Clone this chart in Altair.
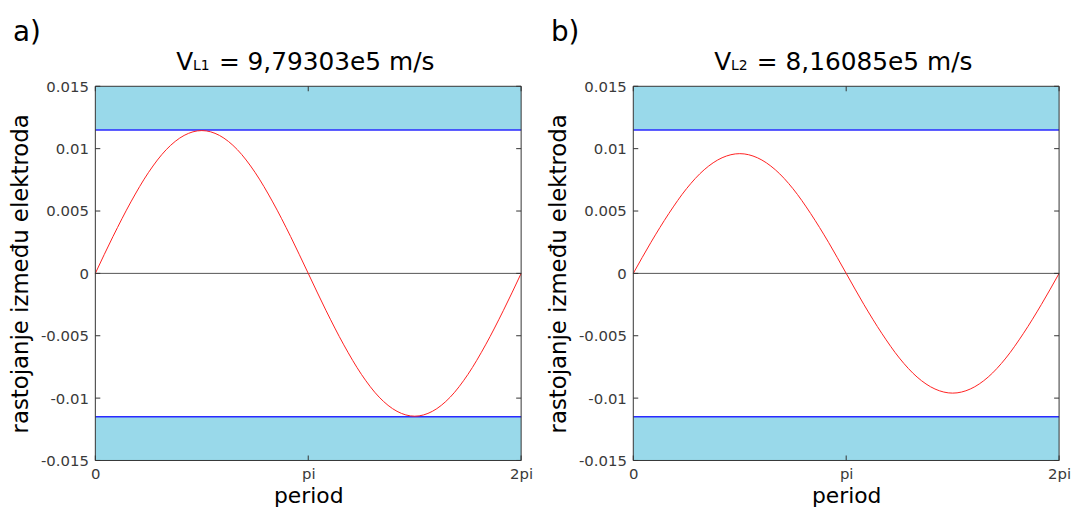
import altair as alt
import pandas as pd

# ---- data ----
x_pi = [0, 0.083, 0.167, 0.25, 0.333, 0.417, 0.5, 0.583, 0.667, 0.75, 0.833, 0.917,
        1.0, 1.083, 1.167, 1.25, 1.333, 1.417, 1.5, 1.583, 1.667, 1.75, 1.833, 1.917, 2.0]
curve_a = [0, 0.00296, 0.00573, 0.00810, 0.00992, 0.01106, 0.01145, 0.01106, 0.00992,
           0.00810, 0.00573, 0.00296, 0, -0.00296, -0.00573, -0.00810, -0.00992,
           -0.01106, -0.01145, -0.01106, -0.00992, -0.00810, -0.00573, -0.00296, 0]
curve_b = [0, 0.00249, 0.00480, 0.00679, 0.00831, 0.00927, 0.00960, 0.00927, 0.00831,
           0.00679, 0.00480, 0.00249, 0, -0.00249, -0.00480, -0.00679, -0.00831,
           -0.00927, -0.00960, -0.00927, -0.00831, -0.00679, -0.00480, -0.00249, 0]
band_lo = [0.0115, -0.015]
band_hi = [0.015, -0.0115]
limit_lines = [0.0115, -0.0115]
zero_line = [0.0]
y_ticks = [-0.015, -0.01, -0.005, 0, 0.005, 0.01, 0.015]
y_tick_labels = ["-0.015", "-0.01", "-0.005", "0", "0.005", "0.01", "0.015"]
x_ticks = [0, 1, 2]
x_tick_labels = ["0", "pi", "2pi"]
panel_labels = ["a)", "b)"]
title_subs = ["L1", "L2"]
title_values = ["= 9,79303e5 m/s", "= 8,16085e5 m/s"]
y_title = "rastojanje između elektroda"
x_title = "period"

W, H = 429, 377
FONT = "DejaVu Sans"
CX = W / 2


def expr(vals, labels):
    parts = [f"datum.value == {v} ? '{l}'" for v, l in zip(vals, labels)]
    return " : ".join(parts) + " : ''"


def panel(values, label, sub, val):
    xs = alt.Scale(domain=[0, 2], nice=False, zero=False)
    ys = alt.Scale(domain=[-0.015, 0.015], nice=False, zero=False)
    xaxis = alt.Axis(values=x_ticks, labelExpr=expr(x_ticks, x_tick_labels), title=x_title,
                     grid=False, ticks=False, domain=False, labelFlush=False, labelPadding=6,
                     labelFont=FONT, labelFontSize=15, labelColor="#3a3a3a",
                     titleFont=FONT, titleFontSize=22, titleFontWeight="normal",
                     titleColor="black", titlePadding=4)
    yaxis = alt.Axis(values=y_ticks, labelExpr=expr(y_ticks, y_tick_labels), title=y_title,
                     grid=False, ticks=False, domain=False, labelPadding=7,
                     labelFont=FONT, labelFontSize=15, labelColor="#3a3a3a",
                     titleFont=FONT, titleFontSize=23, titleFontWeight="normal",
                     titleColor="black", titlePadding=8)

    curve = pd.DataFrame({"x": x_pi, "y": values})
    bands = pd.DataFrame({"lo": band_lo, "hi": band_hi})
    limits = pd.DataFrame({"v": limit_lines})
    zero = pd.DataFrame({"v": zero_line})
    yt = pd.DataFrame({"v": y_ticks})
    xt = pd.DataFrame({"v": x_ticks})
    txt = pd.DataFrame({"lab": [label], "sub": [sub], "val": [val]})

    band_layer = alt.Chart(bands).mark_rect(color="#99d9ea").encode(
        y=alt.Y("lo:Q", scale=ys, axis=yaxis), y2="hi:Q",
        x=alt.value(0), x2=alt.value(W))
    limit_layer = alt.Chart(limits).mark_rule(color="#2a2aff", strokeWidth=1.6).encode(
        y=alt.Y("v:Q", scale=ys, axis=yaxis), x=alt.value(0), x2=alt.value(W))
    zero_layer = alt.Chart(zero).mark_rule(color="#555555", strokeWidth=1).encode(
        y=alt.Y("v:Q", scale=ys, axis=yaxis), x=alt.value(0), x2=alt.value(W))
    curve_layer = alt.Chart(curve).mark_line(color="#ff2020", strokeWidth=1,
                                              interpolate="monotone").encode(
        x=alt.X("x:Q", scale=xs, axis=xaxis), y=alt.Y("y:Q", scale=ys, axis=yaxis))
    ytick_l = alt.Chart(yt).mark_rule(color="#333", strokeWidth=1).encode(
        y=alt.Y("v:Q", scale=ys, axis=yaxis), x=alt.value(0), x2=alt.value(5))
    ytick_r = alt.Chart(yt).mark_rule(color="#333", strokeWidth=1).encode(
        y=alt.Y("v:Q", scale=ys, axis=yaxis), x=alt.value(W - 5), x2=alt.value(W))
    xtick_b = alt.Chart(xt).mark_rule(color="#333", strokeWidth=1).encode(
        x=alt.X("v:Q", scale=xs, axis=xaxis), y=alt.value(H - 5), y2=alt.value(H))
    xtick_t = alt.Chart(xt).mark_rule(color="#333", strokeWidth=1).encode(
        x=alt.X("v:Q", scale=xs, axis=xaxis), y=alt.value(0), y2=alt.value(5))
    frame = alt.Chart(txt).mark_rect(filled=False, stroke="#333", strokeWidth=1).encode(
        x=alt.value(0), x2=alt.value(W), y=alt.value(0), y2=alt.value(H))
    t_v = alt.Chart(txt).mark_text(text="V", font=FONT, fontSize=25, align="left",
                                   baseline="alphabetic", color="black").encode(
        x=alt.value(CX - 133), y=alt.value(-16))
    t_sub = alt.Chart(txt).mark_text(font=FONT, fontSize=14, align="left",
                                     baseline="alphabetic", color="black").encode(
        text="sub:N", x=alt.value(CX - 116), y=alt.value(-16))
    t_val = alt.Chart(txt).mark_text(font=FONT, fontSize=25, align="left",
                                     baseline="alphabetic", color="black").encode(
        text="val:N", x=alt.value(CX - 90), y=alt.value(-16))
    t_lab = alt.Chart(txt).mark_text(font=FONT, fontSize=28, align="left",
                                     baseline="alphabetic", color="black").encode(
        text="lab:N", x=alt.value(-83), y=alt.value(-46))

    return alt.layer(band_layer, limit_layer, zero_layer, curve_layer,
                     ytick_l, ytick_r, xtick_b, xtick_t, frame,
                     t_v, t_sub, t_val, t_lab).properties(width=W, height=H)


left = panel(curve_a, panel_labels[0], title_subs[0], title_values[0])
right = panel(curve_b, panel_labels[1], title_subs[1], title_values[1])

chart = alt.hconcat(left, right, spacing=14).properties(
    padding={"left": 1, "top": 9, "right": 0, "bottom": 0}
).configure_view(stroke=None)

chart.save("out.html", embed_options={"renderer": "svg", "actions": False})
